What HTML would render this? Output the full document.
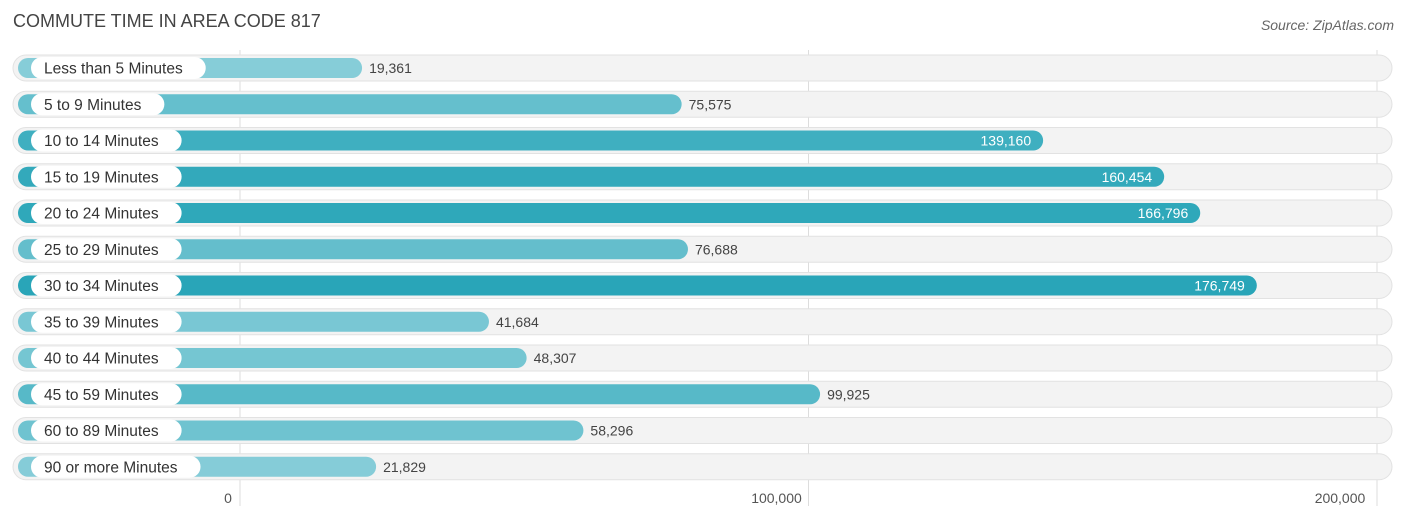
<!DOCTYPE html>
<html><head><meta charset="utf-8"><style>
body{margin:0;background:#fff;font-family:"Liberation Sans",sans-serif;}
svg{display:block}
</style></head><body>
<svg id="c" width="1406" height="522">
<text x="13" y="27" font-size="18" fill="#444">COMMUTE TIME IN AREA CODE 817</text>
<text x="1394" y="30" font-size="14" fill="#666" font-style="italic" text-anchor="end">Source: ZipAtlas.com</text>
<g id="grid"></g><g id="rows"></g><g id="axis"></g>
</svg>
<script>
const categories=["Less than 5 Minutes","5 to 9 Minutes","10 to 14 Minutes","15 to 19 Minutes","20 to 24 Minutes","25 to 29 Minutes","30 to 34 Minutes","35 to 39 Minutes","40 to 44 Minutes","45 to 59 Minutes","60 to 89 Minutes","90 or more Minutes"];
const values=[19361,75575,139160,160454,166796,76688,176749,41684,48307,99925,58296,21829];
const ticks=[0,100000,200000];
const tickLabels=["0","100,000","200,000"];
const NS="http://www.w3.org/2000/svg";
function x(v){return 240+v*568.5/100000;}
function rowY(i){return 68+i*36.25;}
function mk(t,a,p){const e=document.createElementNS(NS,t);for(const k in a)e.setAttribute(k,a[k]);p.appendChild(e);return e;}
const grid=document.getElementById('grid'),rows=document.getElementById('rows'),axis=document.getElementById('axis');
const maxV=Math.max(...values);
function col(v){const t=v/maxV;const a=[146,210,220],b=[41,165,184];return `rgb(${a.map((c,i)=>Math.round(c+(b[i]-c)*t)).join(',')})`;}
values.forEach((v,i)=>{
 const y=rowY(i);
 const bg=mk('rect',{x:13,y:y-13,width:1379,height:26,rx:13,fill:'#f3f3f3',stroke:'#e2e2e2'},rows);
 
});
ticks.forEach((t,i)=>{
 const l=mk('line',{x1:x(t),x2:x(t),y1:50,y2:506,stroke:'#ddd'},grid);
 
 const tx=mk('text',{x:x(t)-(i==0?12:i==2?37:32),y:503,'font-size':14,fill:'#555','text-anchor':'middle'},axis);
 tx.textContent=tickLabels[i];
 
});
values.forEach((v,i)=>{
 const y=rowY(i),end=x(v)+12;
 const b=mk('rect',{x:18,y:y-10,width:end-18,height:20,rx:10,fill:col(v)},rows);
 
 const lt=mk('text',{x:44,y:y+5.5,'font-size':15.5,fill:'#333'},rows);
 lt.textContent=categories[i];
 const w=lt.getComputedTextLength();
 const p=mk('rect',{x:31,y:y-11,width:w+36,height:22,rx:11,fill:'#fff'},rows);
 
 rows.appendChild(lt);
 
 const inside=v>120000;
 const vt=mk('text',{x:inside?end-12:end+7,y:y+5,'font-size':14,fill:inside?'#fff':'#444','text-anchor':inside?'end':'start'},rows);
 vt.textContent=v.toLocaleString('en-US');
 
});
</script>
</body></html>
